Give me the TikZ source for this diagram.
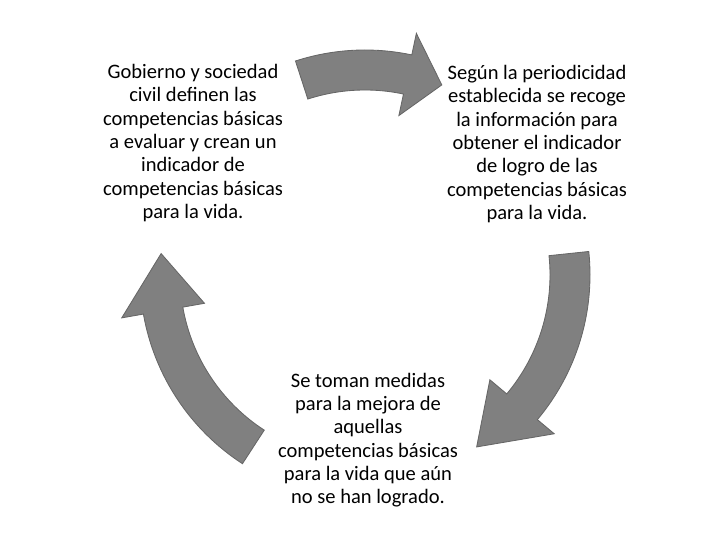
\documentclass[tikz,border=0pt]{standalone}
\usepackage{fontspec}
\setmainfont{Carlito}
\definecolor{arrowgray}{RGB}{128,128,128}
\tikzset{
  cyclearrow/.style={fill=arrowgray, draw=arrowgray!80!black, line width=0.6pt},
  steptext/.style={align=center, font=\fontsize{14.6}{16.6}\selectfont, inner sep=0pt}
}
% curved arrow: #1 tail angle, #2 head base angle, #3 tip angle
\newcommand{\cyclearc}[3]{%
  \draw[cyclearrow] (#1:185) arc (#1:#2:185) -- (#2:163) -- (#3:205)
    -- (#2:247) -- (#2:225) arc (#2:#1:225) -- cycle;}
\begin{document}
\begin{tikzpicture}[x=0.025cm, y=0.025cm]
  \useasboundingbox (0,0) rectangle (720,540);

  % Pfeile um den Mittelpunkt
  \begin{scope}[shift={(365,265)}]
    \cyclearc{108}{78}{68}
    \cyclearc{6}{-40}{-57}
    \cyclearc{237}{190}{174}
  \end{scope}

  % Texte
  \node[steptext] (gobierno) at (193,397) {Gobierno y sociedad\\civil definen las\\competencias básicas\\a evaluar y crean un\\indicador de\\competencias básicas\\para la vida.};
  \node[steptext] (segun) at (537,396) {Según la periodicidad\\establecida se recoge\\la información para\\obtener el indicador\\de logro de las\\competencias básicas\\para la vida.};
  \node[steptext] (medidas) at (368,100) {Se toman medidas\\para la mejora de\\aquellas\\competencias básicas\\para la vida que aún\\no se han logrado.};
\end{tikzpicture}
\end{document}
